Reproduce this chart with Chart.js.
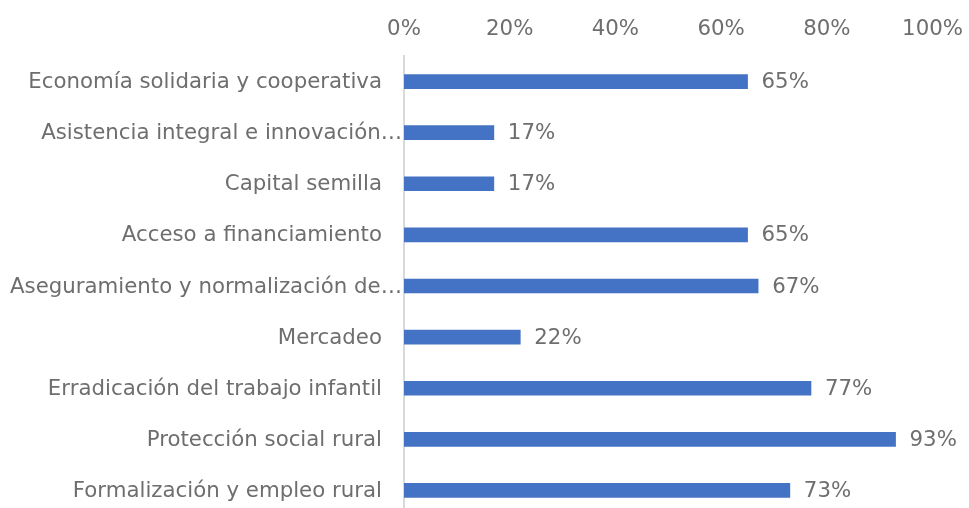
<!DOCTYPE html>
<html>
<head>
<meta charset="utf-8">
<script src="https://cdn.jsdelivr.net/npm/chart.js@4"></script>
<style>
  html, body { margin: 0; padding: 0; background: #fff; overflow: hidden; }
  #wrap { width: 969px; height: 516px; }
</style>
</head>
<body>
<div id="wrap"><canvas id="chart"></canvas></div>
<script>
// categories top to bottom, as shown in the picture
const categories = [
  'Economía solidaria y cooperativa',
  'Asistencia integral e innovación…',
  'Capital semilla',
  'Acceso a financiamiento',
  'Aseguramiento y normalización de…',
  'Mercadeo',
  'Erradicación del trabajo infantil',
  'Protección social rural',
  'Formalización y empleo rural'
];
const shares = [65, 17, 17, 65, 67, 22, 77, 93, 73];
const xTicks = [0, 20, 40, 60, 80, 100];

const TEXT = '#6e6e6e';
const FONT = { family: 'DejaVu Sans', size: 21.3 };
const FONT_CSS = FONT.size + 'px "' + FONT.family + '"';

// value labels right of each bar
const barLabels = {
  id: 'barLabels',
  afterDatasetsDraw(chart) {
    const ctx = chart.ctx;
    const meta = chart.getDatasetMeta(0);
    ctx.save();
    ctx.font = FONT_CSS;
    ctx.fillStyle = TEXT;
    ctx.textAlign = 'left';
    ctx.textBaseline = 'middle';
    meta.data.forEach((bar, i) => {
      ctx.fillText(shares[i] + '%', bar.x + 14, bar.y + 1);
    });
    ctx.restore();
  }
};

// category labels: truncated ones run up to the axis line, like Excel does
const catLabels = {
  id: 'catLabels',
  afterDraw(chart) {
    const ctx = chart.ctx;
    const y = chart.scales.y;
    ctx.save();
    ctx.font = FONT_CSS;
    ctx.fillStyle = TEXT;
    ctx.textAlign = 'right';
    ctx.textBaseline = 'middle';
    categories.forEach((c, i) => {
      const gap = c.endsWith('…') ? 2 : 22;
      ctx.fillText(c, y.right - gap, y.getPixelForTick(i) + 1);
    });
    ctx.restore();
  }
};

new Chart(document.getElementById('chart'), {
  type: 'bar',
  data: {
    labels: categories,
    datasets: [{
      data: shares,
      backgroundColor: '#4472c4',
      barThickness: 14
    }]
  },
  options: {
    indexAxis: 'y',
    responsive: true,
    maintainAspectRatio: false,
    animation: false,
    layout: { autoPadding: false, padding: { left: 0, right: 30, top: 0, bottom: 0 } },
    plugins: { legend: { display: false }, tooltip: { enabled: false } },
    scales: {
      x: {
        position: 'top',
        min: 0,
        max: 100,
        afterBuildTicks(scale) { scale.ticks = xTicks.map(v => ({ value: v })); },
        afterFit(scale) { scale.height = 56; },
        grid: { display: false },
        border: { display: false },
        ticks: {
          color: TEXT,
          font: FONT,
          padding: 6,
          maxRotation: 0,
          callback: v => v + '%'
        }
      },
      y: {
        afterFit(scale) { scale.width = 404; },
        grid: { display: false },
        border: { display: true, color: '#d9d9d9', width: 2 },
        ticks: { display: false }
      }
    }
  },
  plugins: [barLabels, catLabels]
});
</script>
</body>
</html>
